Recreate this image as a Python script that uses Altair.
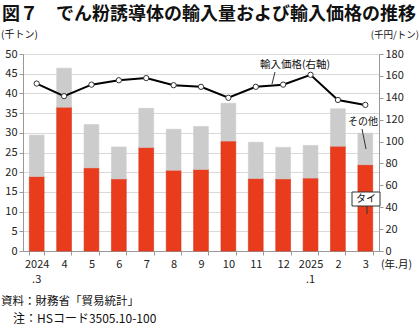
import altair as alt
import pandas as pd

months = ["2024.3", "4", "5", "6", "7", "8", "9", "10", "11", "12", "2025.1", "2", "3"]
thai = [18.9, 36.5, 21.1, 18.3, 26.3, 20.5, 20.7, 27.9, 18.4, 18.3, 18.5, 26.6, 21.9]
other = [10.5, 9.9, 11.0, 8.1, 9.9, 10.4, 10.9, 9.6, 9.2, 8.0, 8.3, 9.5, 8.0]
price = [153, 141.5, 152, 156, 158, 151.5, 150, 140, 150, 152, 161, 138, 133.5]
sub_months = ["2024.3", "2025.1"]
sub_labels = [".3", ".1"]

FONT = "Noto Sans CJK JP"
RED = "#E83C1C"
GRAY = "#CCCCCC"

rows = []
for m, t, o in zip(months, thai, other):
    rows.append({"month": m, "kind": "タイ", "ord": 0, "value": t})
    rows.append({"month": m, "kind": "その他", "ord": 1, "value": o})
bar_df = pd.DataFrame(rows)
line_df = pd.DataFrame({"month": months, "price": price})
sub_df = pd.DataFrame({"month": sub_months, "sub": sub_labels})

xenc = alt.X(
    "month:N",
    sort=months,
    scale=alt.Scale(paddingInner=0.46, paddingOuter=0.23),
    axis=alt.Axis(
        title=None,
        labelAngle=0,
        labelExpr="datum.value == '2024.3' ? '2024' : datum.value == '2025.1' ? '2025' : datum.value",
        tickBand="extent",
        tickSize=4,
        labelPadding=3,
        domainColor="#999999",
        tickColor="#999999",
        labelFontSize=11,
        labelColor="#222222",
        labelFont=FONT,
    ),
)

bars = alt.Chart(bar_df).mark_bar(strokeWidth=0.6).encode(
    x=xenc,
    y=alt.Y(
        "value:Q",
        stack="zero",
        scale=alt.Scale(domain=[0, 50], nice=False),
        axis=alt.Axis(
            title=None,
            values=list(range(0, 51, 5)),
            tickSize=4,
            labelPadding=2,
            domainColor="#999999",
            tickColor="#999999",
            gridColor="#D9D9D9",
            labelFontSize=11,
            labelColor="#222222",
            labelFont=FONT,
        ),
    ),
    color=alt.Color(
        "kind:N",
        scale=alt.Scale(domain=["タイ", "その他"], range=[RED, GRAY]),
        legend=None,
    ),
    stroke=alt.Stroke(
        "kind:N",
        scale=alt.Scale(domain=["タイ", "その他"], range=["#D8301A", GRAY]),
        legend=None,
    ),
    order=alt.Order("ord:Q"),
)

line = alt.Chart(line_df).mark_line(
    color="black",
    strokeWidth=2,
    point=alt.OverlayMarkDef(filled=True, fill="white", stroke="#333333", strokeWidth=1, size=28, opacity=1),
).encode(
    x=alt.X("month:N", sort=months),
    y=alt.Y(
        "price:Q",
        scale=alt.Scale(domain=[0, 180], nice=False),
        axis=alt.Axis(
            title=None,
            orient="right",
            values=list(range(0, 181, 20)),
            grid=False,
            tickSize=4,
            labelPadding=2,
            domainColor="#999999",
            tickColor="#999999",
            labelFontSize=11,
            labelColor="#222222",
            labelFont=FONT,
        ),
    ),
)

OX, OY = 23, 54  # plot origin in page coordinates

sub = alt.Chart(sub_df).mark_text(
    fontSize=11, font=FONT, color="#222222", baseline="middle", align="center"
).encode(
    x=alt.X("month:N", sort=months),
    y=alt.value(280 - OY),
    text="sub:N",
)

def text(t, x, y, size=11, align="left", weight="normal", baseline="middle"):
    return alt.Chart(alt.Data(values=[{}])).mark_text(
        text=t, align=align, baseline=baseline, fontSize=size, font=FONT,
        fontWeight=weight, color="#111111",
    ).encode(x=alt.value(x), y=alt.value(y))

def rule(x1, y1, x2, y2, color="#333333"):
    return alt.Chart(alt.Data(values=[{}])).mark_rule(color=color, strokeWidth=1).encode(
        x=alt.value(x1), x2=alt.value(x2), y=alt.value(y1), y2=alt.value(y2)
    )

annos = [
    text("輸入価格(右軸)", 295 - OX, 65 - OY, size=10.5, align="center"),
    rule(275 - OX, 72 - OY, 272 - OX, 84 - OY),
    text("その他", 363 - OX, 122 - OY, size=10, align="center"),
    rule(362 - OX, 129 - OY, 366 - OX, 149 - OY),
    alt.Chart(alt.Data(values=[{}])).mark_rect(fill="white", stroke="#333333", strokeWidth=1).encode(
        x=alt.value(352 - OX), x2=alt.value(380 - OX), y=alt.value(192 - OY), y2=alt.value(206 - OY)
    ),
    text("タイ", 366 - OX, 199 - OY, size=10, align="center"),
    rule(367 - OX, 206 - OY, 367 - OX, 214 - OY),
    text("図７　でん粉誘導体の輸入量および輸入価格の推移", 2 - OX, 15 - OY, size=18, weight="bold"),
    text("(千トン)", 1 - OX, 35 - OY, size=10),
    text("(千円/トン)", 419 - OX, 35 - OY, size=9.5, align="right"),
    text("(年.月)", 381 - OX, 265 - OY, size=10.5),
    text("資料：財務省「貿易統計」", 1 - OX, 302 - OY, size=11.5),
    text("注：HSコード3505.10-100", 13 - OX, 319 - OY, size=12),
]

chart = alt.layer(bars, line, sub, *annos).resolve_scale(
    y="independent", color="independent", stroke="independent"
).properties(
    width=356,
    height=197,
    autosize=alt.AutoSizeParams(type="none"),
    padding={"left": OX, "top": OY, "right": 41, "bottom": 76},
).configure_view(stroke=None).configure(background="white")

chart.save("out.html", embed_options={"renderer": "svg", "actions": False})
